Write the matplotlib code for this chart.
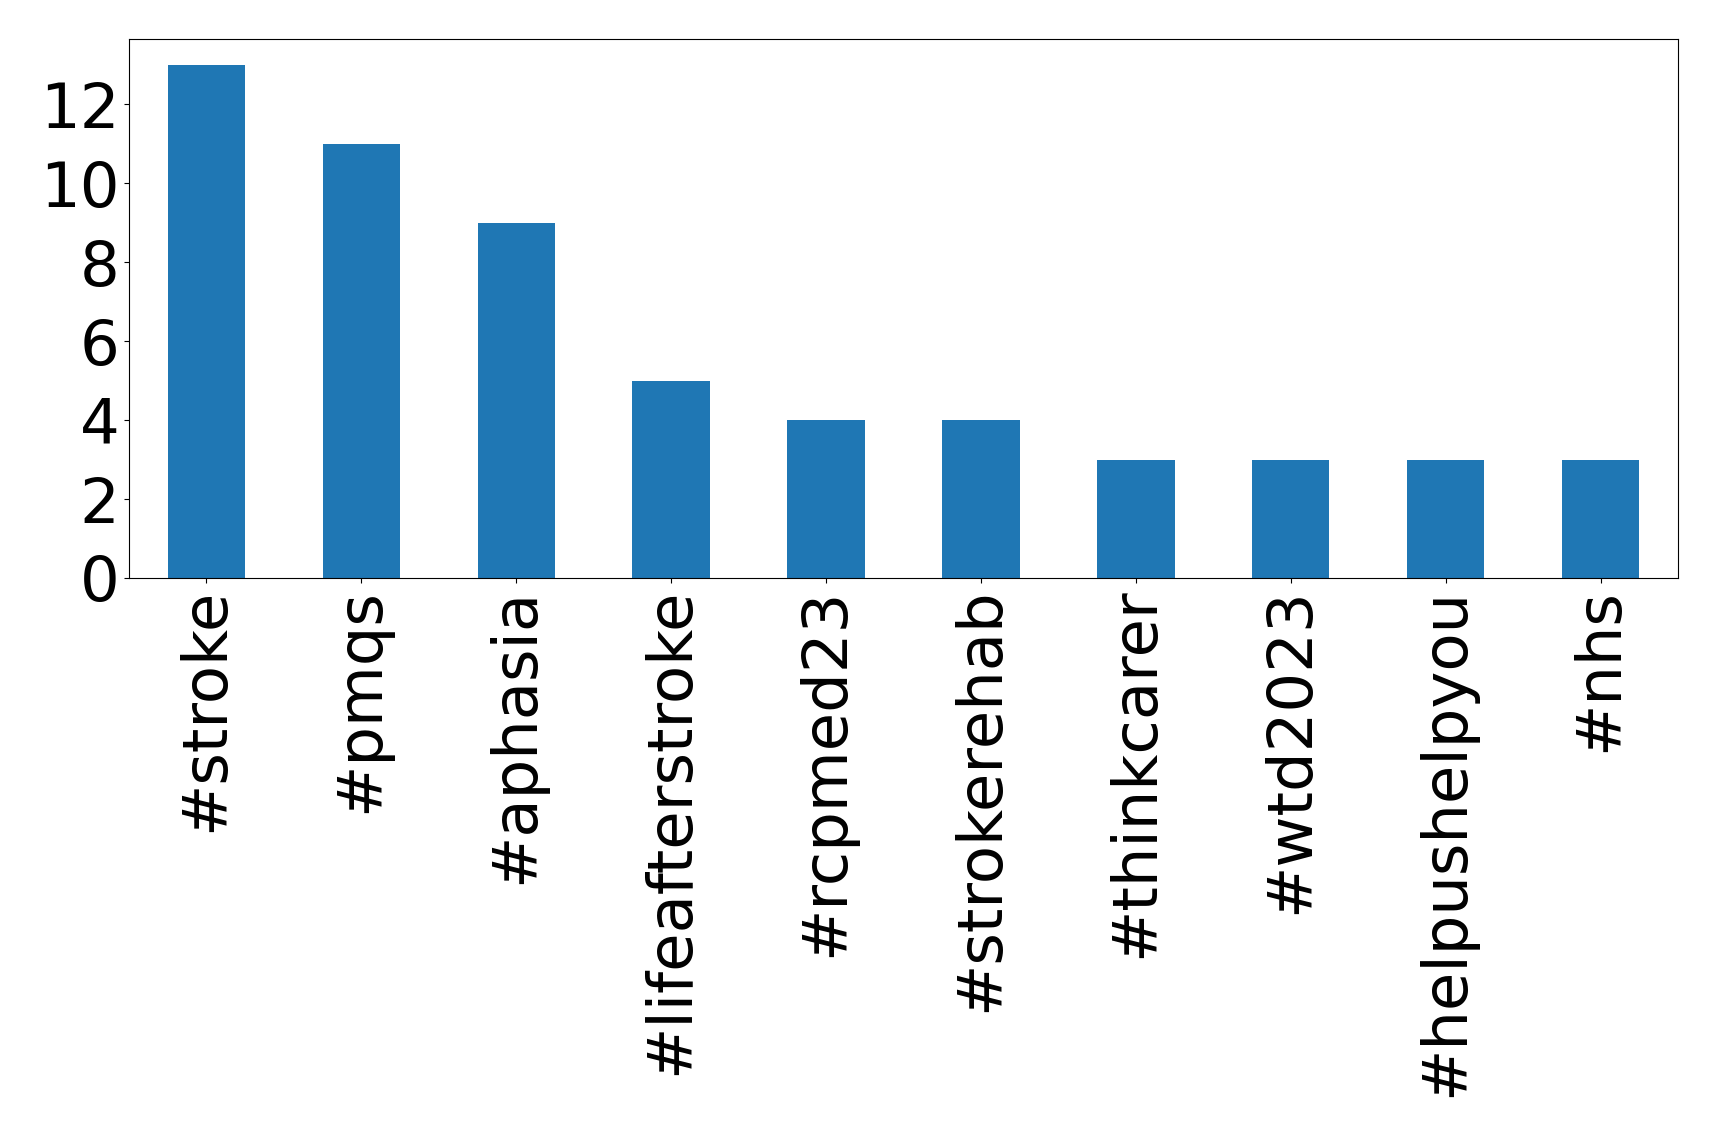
import matplotlib
matplotlib.use("Agg")
import matplotlib.pyplot as plt
import pandas as pd

hashtags = ["#stroke", "#pmqs", "#aphasia", "#lifeafterstroke", "#rcpmed23",
            "#strokerehab", "#thinkcarer", "#wtd2023", "#helpushelpyou", "#nhs"]
counts = [13, 11, 9, 5, 4, 4, 3, 3, 3, 3]

series = pd.Series(counts, index=hashtags)

fig = plt.figure(figsize=(17.19, 11.37), dpi=100)
ax = fig.add_axes([129 / 1719, 1 - 578 / 1137, (1678 - 129) / 1719, (578 - 39) / 1137])
series.plot(kind="bar", ax=ax, fontsize=45)

fig.savefig("out.png", dpi=100)
